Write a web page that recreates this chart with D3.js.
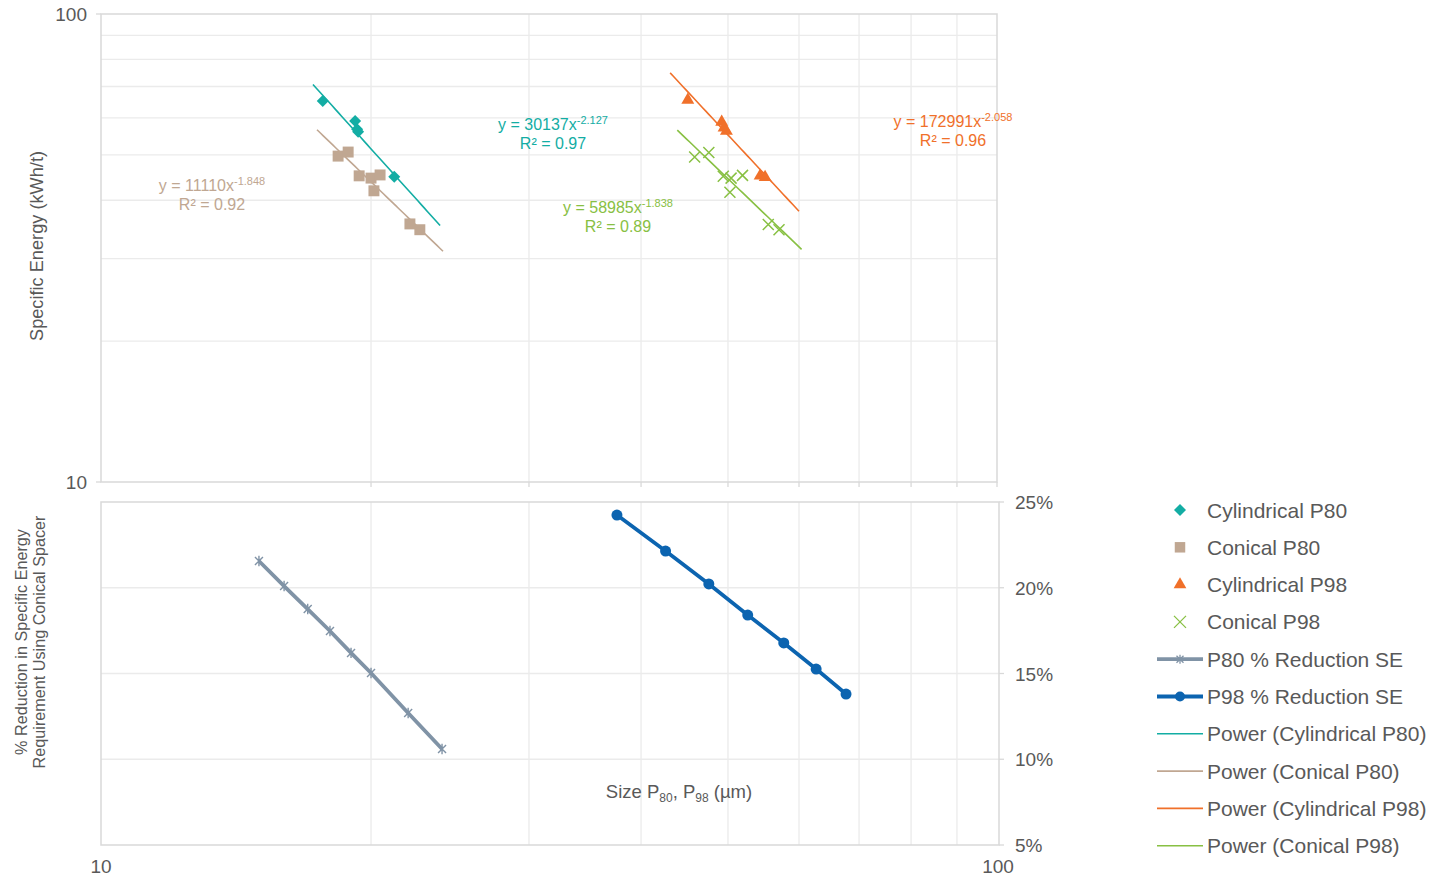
<!DOCTYPE html>
<html>
<head>
<meta charset="utf-8">
<script src="https://cdn.jsdelivr.net/npm/d3@7"></script>
<style>
  body { margin: 0; background: #fff; }
  text { font-family: "Liberation Sans", Arial, sans-serif; fill: #595959; }
</style>
</head>
<body>
<div id="chart"></div>
<script>
// top panel: specific energy vs size
var cylP80X = [17.67, 19.2, 19.3, 19.35, 21.23];
var cylP80Y = [65.2, 59.1, 56.7, 56.0, 44.9];
var conP80X = [18.38, 18.86, 19.4, 20.0, 20.47, 20.15, 22.1, 22.67];
var conP80Y = [49.7, 50.7, 45.1, 44.6, 45.3, 41.9, 35.6, 34.6];
var cylP98X = [45.1, 49.2, 49.5, 49.8, 54.3, 55.0];
var cylP98Y = [65.5, 58.8, 57.1, 56.2, 45.1, 44.8];
var conP98X = [45.9, 47.6, 49.4, 50.4, 51.9, 50.25, 55.45, 57.0];
var conP98Y = [49.5, 50.6, 45.0, 44.6, 45.2, 41.6, 35.5, 34.6];

// power trendlines: coefficient, exponent, r2, x extent
var fitNames = ["cylP80", "conP80", "cylP98", "conP98"];
var fitCoef = [30137, 11110, 172991, 58985];
var fitExp = [-2.127, -1.848, -2.058, -1.838];
var fitR2 = ["0.97", "0.92", "0.96", "0.89"];
var fitFrom = [17.23, 17.41, 43.1, 43.9];
var fitTo = [23.88, 24.06, 60.0, 60.4];

// bottom panel: % reduction
var redP80X = [15, 16, 17, 18, 19, 20, 22, 24];
var redP80Y = [0.2156, 0.201, 0.1876, 0.1748, 0.162, 0.1503, 0.127, 0.106];
var redP98X = [37.6, 42.6, 47.6, 52.6, 57.7, 62.7, 67.7];
var redP98Y = [0.2424, 0.2214, 0.2022, 0.1841, 0.1678, 0.1526, 0.138];

var minorTicks = [20, 30, 40, 50, 60, 70, 80, 90];
var pctTicks = [0.05, 0.10, 0.15, 0.20, 0.25];

var colors = {
  cylP80: "#13ada4", conP80: "#c0a792", cylP98: "#f0702a", conP98: "#88c043",
  redP80: "#8093a6", redP98: "#0c64b0"
};

var svg = d3.select("#chart").append("svg")
  .attr("width", 1445).attr("height", 877);

var x = d3.scaleLog().domain([10, 100]).range([101, 998]);
var yTop = d3.scaleLog().domain([10, 100]).range([482, 14]);
var yBot = d3.scaleLinear().domain([0.05, 0.25]).range([845, 502]);

var grid = "#ebebeb", axisCol = "#d9d9d9";

// ---- top panel grid and frame
var topG = svg.append("g");
topG.selectAll(".vg").data(minorTicks).enter().append("line")
  .attr("x1", d => x(d)).attr("x2", d => x(d))
  .attr("y1", 14).attr("y2", 482)
  .attr("stroke", grid).attr("stroke-width", 1.3);
topG.selectAll(".hg").data(minorTicks).enter().append("line")
  .attr("x1", 101).attr("x2", 997)
  .attr("y1", d => yTop(d)).attr("y2", d => yTop(d))
  .attr("stroke", grid).attr("stroke-width", 1.3);
topG.append("rect").attr("x", 101).attr("y", 14).attr("width", 896).attr("height", 468)
  .attr("fill", "none").attr("stroke", axisCol).attr("stroke-width", 1.5);
// small tick marks
topG.selectAll(".bt").data(minorTicks.concat([100])).enter().append("line")
  .attr("x1", d => Math.min(x(d), 997)).attr("x2", d => Math.min(x(d), 997))
  .attr("y1", 482).attr("y2", 487).attr("stroke", axisCol).attr("stroke-width", 1.3);
topG.selectAll(".lt").data([10, 100]).enter().append("line")
  .attr("x1", 96).attr("x2", 101)
  .attr("y1", d => yTop(d)).attr("y2", d => yTop(d))
  .attr("stroke", axisCol).attr("stroke-width", 1.3);
topG.selectAll(".ylab").data([10, 100]).enter().append("text")
  .attr("x", 87).attr("y", d => yTop(d) + 7)
  .attr("text-anchor", "end").attr("font-size", 19)
  .text(d => d);
svg.append("text")
  .attr("transform", "translate(43,246) rotate(-90)")
  .attr("text-anchor", "middle").attr("font-size", 18.2)
  .text("Specific Energy (kWh/t)");

// ---- bottom panel grid and frame
var bot = svg.append("g");
bot.selectAll(".vg").data(minorTicks).enter().append("line")
  .attr("x1", d => x(d)).attr("x2", d => x(d))
  .attr("y1", 502).attr("y2", 845)
  .attr("stroke", grid).attr("stroke-width", 1.3);
bot.selectAll(".hg").data([0.10, 0.15, 0.20]).enter().append("line")
  .attr("x1", 101).attr("x2", 999)
  .attr("y1", d => yBot(d)).attr("y2", d => yBot(d))
  .attr("stroke", grid).attr("stroke-width", 1.3);
bot.append("rect").attr("x", 101).attr("y", 502).attr("width", 898).attr("height", 343)
  .attr("fill", "none").attr("stroke", axisCol).attr("stroke-width", 1.5);
bot.selectAll(".rt").data(pctTicks).enter().append("line")
  .attr("x1", 999).attr("x2", 1004)
  .attr("y1", d => yBot(d)).attr("y2", d => yBot(d))
  .attr("stroke", axisCol).attr("stroke-width", 1.3);
bot.selectAll(".plab").data(pctTicks).enter().append("text")
  .attr("x", 1015).attr("y", d => yBot(d) + 7)
  .attr("font-size", 19)
  .text(d => d3.format(".0%")(d));
bot.selectAll(".xlab").data([10, 100]).enter().append("text")
  .attr("x", d => x(d)).attr("y", 873)
  .attr("text-anchor", "middle").attr("font-size", 19)
  .text(d => d);
var bt = svg.append("text")
  .attr("transform", "translate(0,642) rotate(-90)")
  .attr("text-anchor", "middle").attr("font-size", 16.2);
bt.append("tspan").attr("x", 0).attr("y", 27).text("% Reduction in Specific Energy");
bt.append("tspan").attr("x", 0).attr("y", 45).text("Requirement Using Conical Spacer");

var xt = svg.append("text").attr("x", 679).attr("y", 798)
  .attr("text-anchor", "middle").attr("font-size", 18.5);
xt.append("tspan").text("Size P");
xt.append("tspan").attr("font-size", 12).attr("dy", 4).text("80");
xt.append("tspan").attr("dy", -4).text(", P");
xt.append("tspan").attr("font-size", 12).attr("dy", 4).text("98");
xt.append("tspan").attr("dy", -4).text(" (µm)");

// ---- trendlines
var fitLine = d3.line().x(d => x(d[0])).y(d => yTop(d[1]));
fitNames.forEach(function(name, i) {
  var pts = d3.range(0, 41).map(function(k) {
    var xv = Math.exp(Math.log(fitFrom[i]) + k / 40 * (Math.log(fitTo[i]) - Math.log(fitFrom[i])));
    return [xv, fitCoef[i] * Math.pow(xv, fitExp[i])];
  });
  svg.append("path").datum(pts).attr("d", fitLine)
    .attr("fill", "none").attr("stroke", colors[name]).attr("stroke-width", 1.6);
});

// ---- scatter markers
function diamond(cx, cy, r) {
  return "M" + cx + "," + (cy - r) + "L" + (cx + r) + "," + cy + "L" + cx + "," + (cy + r) +
         "L" + (cx - r) + "," + cy + "Z";
}
function cross(cx, cy, r) {
  return "M" + (cx - r) + "," + (cy - r) + "L" + (cx + r) + "," + (cy + r) +
         "M" + (cx - r) + "," + (cy + r) + "L" + (cx + r) + "," + (cy - r);
}
function addPoints(xs, ys, type, color) {
  var g = svg.append("g");
  xs.forEach(function(xv, i) {
    var cx = x(xv), cy = yTop(ys[i]);
    if (type === "x") {
      g.append("path").attr("d", cross(cx, cy, 5.5))
        .attr("stroke", color).attr("stroke-width", 1.5).attr("fill", "none");
    } else if (type === "diamond") {
      g.append("path").attr("d", diamond(cx, cy, 6)).attr("fill", color);
    } else {
      g.append("path")
        .attr("transform", "translate(" + cx + "," + cy + ")")
        .attr("d", d3.symbol().type(type).size(type === d3.symbolTriangle ? 72 : 120)())
        .attr("fill", color);
    }
  });
}
addPoints(conP80X, conP80Y, d3.symbolSquare, colors.conP80);
addPoints(cylP80X, cylP80Y, "diamond", colors.cylP80);
addPoints(conP98X, conP98Y, "x", colors.conP98);
addPoints(cylP98X, cylP98Y, d3.symbolTriangle, colors.cylP98);

// ---- equation labels
var eqPos = [[553, 130], [212, 191], [953, 127], [618, 213]];
fitNames.forEach(function(name, i) {
  var t = svg.append("text").attr("text-anchor", "middle").attr("font-size", 16)
    .attr("x", eqPos[i][0]).attr("y", eqPos[i][1]);
  t.append("tspan").style("fill", colors[name]).text("y = " + fitCoef[i] + "x");
  t.append("tspan").style("fill", colors[name]).attr("font-size", 11).attr("dy", -6).text(fitExp[i].toFixed(3));
  svg.append("text").attr("text-anchor", "middle").attr("font-size", 16)
    .attr("x", eqPos[i][0]).attr("y", eqPos[i][1] + 19)
    .style("fill", colors[name]).text("R² = " + fitR2[i]);
});

// ---- reduction lines
var redLine = d3.line().x(d => x(d[0])).y(d => yBot(d[1]));
var p80 = d3.zip(redP80X, redP80Y), p98 = d3.zip(redP98X, redP98Y);
function star(cx, cy, r) {
  return cross(cx, cy, r) + "M" + cx + "," + (cy - r * 1.3) + "L" + cx + "," + (cy + r * 1.3);
}
svg.append("path").datum(p80).attr("d", redLine)
  .attr("fill", "none").attr("stroke", colors.redP80).attr("stroke-width", 3.8);
svg.selectAll(".s80").data(p80).enter().append("path")
  .attr("d", d => star(x(d[0]), yBot(d[1]), 4))
  .attr("stroke", colors.redP80).attr("stroke-width", 1.4).attr("fill", "none");
svg.append("path").datum(p98).attr("d", redLine)
  .attr("fill", "none").attr("stroke", colors.redP98).attr("stroke-width", 3.8);
svg.selectAll(".c98").data(p98).enter().append("circle")
  .attr("cx", d => x(d[0])).attr("cy", d => yBot(d[1])).attr("r", 5.5)
  .attr("fill", colors.redP98);

// ---- legend
var legendNames = ["Cylindrical P80", "Conical P80", "Cylindrical P98", "Conical P98",
  "P80 % Reduction SE", "P98 % Reduction SE", "Power (Cylindrical P80)",
  "Power (Conical P80)", "Power (Cylindrical P98)", "Power (Conical P98)"];
var legendKeys = ["cylP80", "conP80", "cylP98", "conP98", "redP80", "redP98",
  "cylP80", "conP80", "cylP98", "conP98"];
var lg = svg.append("g");
legendNames.forEach(function(name, i) {
  var cy = 510 + i * 37.3, c = colors[legendKeys[i]];
  if (i === 0) {
    lg.append("path").attr("d", diamond(1180, cy, 6)).attr("fill", c);
  } else if (i === 1 || i === 2) {
    lg.append("path").attr("transform", "translate(1180," + cy + ")")
      .attr("d", d3.symbol().type(i === 1 ? d3.symbolSquare : d3.symbolTriangle).size(i === 1 ? 110 : 70)())
      .attr("fill", c);
  } else if (i === 3) {
    lg.append("path").attr("d", cross(1180, cy, 6)).attr("stroke", c).attr("stroke-width", 1.3);
  } else {
    lg.append("line").attr("x1", 1157).attr("x2", 1203).attr("y1", cy).attr("y2", cy)
      .attr("stroke", c).attr("stroke-width", i < 6 ? 3.8 : 1.6);
    if (i === 4) lg.append("path").attr("d", star(1180, cy, 3.5)).attr("stroke", c).attr("stroke-width", 1.3);
    if (i === 5) lg.append("circle").attr("cx", 1180).attr("cy", cy).attr("r", 5).attr("fill", c);
  }
  lg.append("text").attr("x", 1207).attr("y", cy + 7.5).attr("font-size", 21).text(name);
});
</script>
</body>
</html>
